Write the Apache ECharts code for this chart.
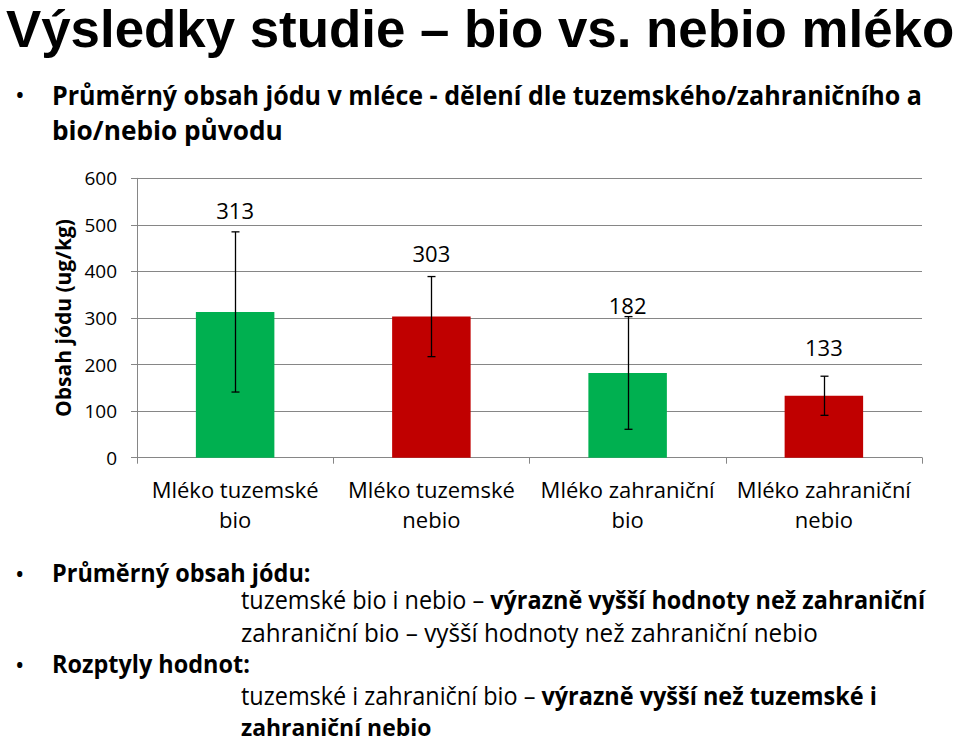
<!DOCTYPE html>
<html>
<head>
<meta charset="utf-8">
<script src="https://cdn.jsdelivr.net/npm/echarts@6/dist/echarts.min.js"></script>
<style>
  html, body { margin: 0; padding: 0; background: #fff; }
  body { width: 960px; height: 745px; position: relative; overflow: hidden; font-family: "Open Sans", sans-serif; color: #000; }
  #chart { position: absolute; left: 0; top: 0; width: 960px; height: 745px; }
  .t { position: absolute; white-space: nowrap; line-height: 0.8; transform-origin: 0 0; }
  .b { font-weight: bold; }
  .ttl { font-family: "Liberation Sans", Arial, sans-serif; }
  .bul { position: absolute; white-space: nowrap; line-height: 0.8; }
</style>
</head>
<body>
<div id="chart"></div>
<div id="texts"></div>
<script>
// ---- data ----
var categories = ['Mléko tuzemské\nbio', 'Mléko tuzemské\nnebio', 'Mléko zahraniční\nbio', 'Mléko zahraniční\nnebio'];
var values = [313, 303, 182, 133];
var errors = [172, 86, 121, 42];
var yMin = 0, yMax = 600, yStep = 100;
var yName = 'Obsah jódu (ug/kg)';
var titleText = 'Výsledky studie – bio vs. nebio mléko';
var introLine1 = 'Průměrný obsah jódu v mléce - dělení dle tuzemského/zahraničního a';
var introLine2 = 'bio/nebio původu';

// ---- styles ----
var barColors = ['#00B050', '#C00000', '#00B050', '#C00000'];
var labelGap = [22, 24, 12, 29];

// ---- text blocks (html) ----
// [html, left, baseline, fontSize, bold, targetWidth, bullet, isTitle]
var lines = [
  [titleText, 6, 47, 51, true, 948, false, true],
  [introLine1, 52, 104, 26, true, 870, true],
  [introLine2, 52, 140, 26, true, 231, false],
  ['Průměrný obsah jódu:', 52, 583, 25, true, 259, true],
  ['tuzemské bio i nebio – <b>výrazně vyšší hodnoty než zahraniční</b>', 241, 610, 25, false, 684, false],
  ['zahraniční bio – vyšší hodnoty než zahraniční nebio', 241, 642, 25, false, 577, false],
  ['Rozptyly hodnot:', 52, 674, 25, true, 198, true],
  ['tuzemské i zahraniční bio – <b>výrazně vyšší než tuzemské i</b>', 241, 706, 25, false, 636, false],
  ['zahraniční nebio', 241, 737, 24, true, 190, false]
];
var BASE_OPEN = 0.788;  // baseline offset for line-height 0.8 (Open Sans)
var BASE_LIB = 0.7465;  // baseline offset for line-height 0.8 (Liberation Sans)
var host = document.getElementById('texts');
var els = [];
lines.forEach(function (l) {
  var base = l[7] ? BASE_LIB : BASE_OPEN;
  var d = document.createElement('div');
  d.className = 't' + (l[4] ? ' b' : '') + (l[7] ? ' ttl' : '');
  d.style.fontSize = l[3] + 'px';
  d.style.left = l[1] + 'px';
  d.style.top = (l[2] - base * l[3]) + 'px';
  d.innerHTML = l[0];
  host.appendChild(d);
  els.push([d, l[5], l[3]]);
  if (l[6]) {
    var bl = document.createElement('div');
    bl.className = 'bul';
    bl.style.fontSize = l[3] + 'px';
    bl.style.left = '15px';
    bl.style.top = (l[2] - base * l[3]) + 'px';
    bl.textContent = '•';
    host.appendChild(bl);
  }
});
function fit() {
  els.forEach(function (e) {
    var d = e[0], target = e[1], fs = e[2];
    d.style.transform = 'none';
    d.style.fontSize = fs + 'px';
    var w = d.scrollWidth;
    if (w > 0) {
      var fs2 = fs * target / w;
      d.style.fontSize = fs2 + 'px';
      var w2 = d.scrollWidth;
      var sx = w2 > 0 ? target / w2 : 1;
      d.style.transform = 'scale(' + sx + ',' + (fs / fs2) + ')';
    }
  });
}
fit();
if (document.fonts && document.fonts.ready) document.fonts.ready.then(fit);

// ---- chart ----
var chart = echarts.init(document.getElementById('chart'), null, { renderer: 'svg' });
var font = '"Open Sans", sans-serif';
chart.setOption({
  animation: false,
  grid: { left: 137, right: 38, top: 178.3, bottom: 287.3, containLabel: false },
  xAxis: {
    type: 'category',
    data: categories,
    boundaryGap: true,
    axisLine: { show: true, lineStyle: { color: '#868686', width: 1 } },
    axisTick: { show: true, length: 6, alignWithLabel: false, lineStyle: { color: '#868686' } },
    axisLabel: { color: '#000', fontFamily: font, fontSize: 22, lineHeight: 30, margin: 16, interval: 0 },
    splitLine: { show: false }
  },
  yAxis: {
    type: 'value',
    min: yMin, max: yMax, interval: yStep,
    name: yName,
    nameLocation: 'middle',
    nameRotate: 90,
    nameGap: 56,
    nameTextStyle: { color: '#000', fontFamily: font, fontSize: 21, fontWeight: 'bold' },
    axisLine: { show: true, lineStyle: { color: '#868686', width: 1 } },
    axisTick: { show: true, length: 6, lineStyle: { color: '#868686' } },
    axisLabel: { color: '#000', fontFamily: font, fontSize: 19, margin: 20 },
    splitLine: { show: true, lineStyle: { color: '#868686', width: 1 } }
  },
  series: [
    {
      type: 'bar',
      barWidth: '40%',
      data: values.map(function (v, i) { return { value: v, itemStyle: { color: barColors[i] } }; }),
      z: 2
    },
    {
      type: 'custom',
      z: 5,
      data: values.map(function (v, i) { return [i, v, errors[i]]; }),
      renderItem: function (params, api) {
        var i = api.value(0), v = api.value(1), e = api.value(2);
        var top = api.coord([i, v + e]);
        var bot = api.coord([i, v - e]);
        var x = Math.round(top[0]) + 0.5;
        var cap = 4;
        var st = { stroke: '#000', lineWidth: 1.3 };
        return {
          type: 'group',
          children: [
            { type: 'line', shape: { x1: x, y1: top[1], x2: x, y2: bot[1] }, style: st },
            { type: 'line', shape: { x1: x - cap, y1: top[1], x2: x + cap, y2: top[1] }, style: st },
            { type: 'line', shape: { x1: x - cap, y1: bot[1], x2: x + cap, y2: bot[1] }, style: st },
            { type: 'text', x: top[0], y: top[1] - labelGap[params.dataIndex],
              style: { text: String(v), fill: '#000', font: '22px ' + font, textAlign: 'center', textVerticalAlign: 'middle' } }
          ]
        };
      }
    }
  ]
});
</script>
</body>
</html>
